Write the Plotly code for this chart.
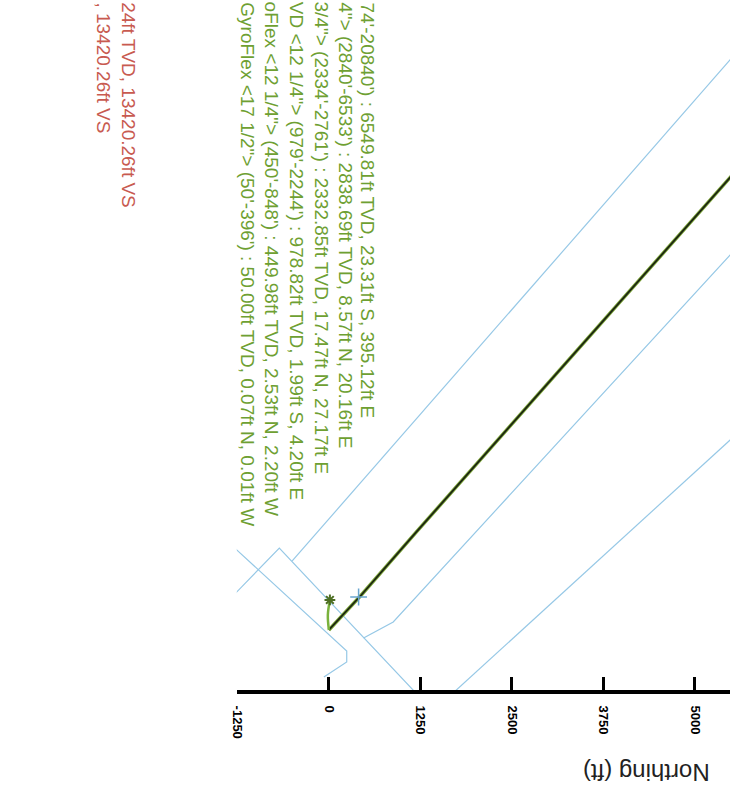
import plotly.graph_objects as go

# ---------------- data (feet) ----------------
northing_ticks = [-1250, 0, 1250, 2500, 3750, 5000]
tick_labels = ["-1250", "0", "1250", "2500", "3750", "5000"]

# planned wellbore (x = Northing, y = cross axis of the rotated plan view)
traj_x = [0, 440, 1190, 2909, 4627, 5479, 6000]
traj_y = [0, 470, 1320, 3250, 5173, 6120, 6700]

# top-hole (gyro) section
gyro_x = [0, -14, 14]
gyro_y = [0, 203, 406]

# survey marker on the plan
marker_x = [406]
marker_y = [446]

# lease / section lines
lease_b_x = [-1421, -1258, 244, 244, -68]
lease_b_y = [1231, 1082, -284, -433, -636]
lease_c_x = [-1421, -677, 1285]
lease_c_y = [348, 1109, -954]
lease_d_x = [-501, 5885]
lease_d_y = [934, 8172]
lease_e_x = [474, 879, 5885]
lease_e_y = [-108, 108, 5511]
lease_f_x = [1637, 5885]
lease_f_y = [-906, 2936]

# casing / section labels (visible parts)
green_labels = [
    "74'-20840') : 6549.81ft TVD, 23.31ft S, 395.12ft E",
    "4\"&gt; (2840'-6533') : 2838.69ft TVD, 8.57ft N, 20.16ft E",
    "3/4\"&gt; (2334'-2761') : 2332.85ft TVD, 17.47ft N, 27.17ft E",
    "VD &lt;12 1/4\"&gt; (979'-2244') : 978.82ft TVD, 1.99ft S, 4.20ft E",
    "oFlex &lt;12 1/4\"&gt; (450'-848') : 449.98ft TVD, 2.53ft N, 2.20ft W",
    "GyroFlex &lt;17 1/2\"&gt; (50'-396') : 50.00ft TVD, 0.07ft N, 0.01ft W",
]
red_labels = [
    "24ft TVD, 13420.26ft VS",
    ", 13420.26ft VS",
]

# ---------------- layout helpers ----------------
W, H = 730, 799
FONT = "Liberation Sans, Arial, sans-serif"
BLUE = "#96c8e6"
GREEN = "#6ea032"
RED = "#c85a50"


def px(xp):
    return xp / W


def py(yp):
    return 1 - yp / H


fig = go.Figure()

for lx, ly in [(lease_b_x, lease_b_y), (lease_c_x, lease_c_y), (lease_d_x, lease_d_y),
               (lease_e_x, lease_e_y), (lease_f_x, lease_f_y)]:
    fig.add_trace(go.Scatter(x=lx, y=ly, mode="lines",
                             line=dict(color=BLUE, width=1.2), hoverinfo="skip"))

fig.add_trace(go.Scatter(x=traj_x, y=traj_y, mode="lines",
                         line=dict(color="#7fa83a", width=3.5), hoverinfo="skip"))
fig.add_trace(go.Scatter(x=traj_x, y=traj_y, mode="lines",
                         line=dict(color="#1c2612", width=1.8), hoverinfo="skip"))
fig.add_trace(go.Scatter(x=gyro_x, y=gyro_y, mode="lines",
                         line=dict(color="#7ab23c", width=2.5, shape="spline"), hoverinfo="skip"))
fig.add_trace(go.Scatter(x=[gyro_x[-1]], y=[gyro_y[-1]], mode="markers",
                         marker=dict(symbol="asterisk-open", size=9, color="#4d6e22",
                                     line=dict(color="#4d6e22", width=2)), hoverinfo="skip"))
fig.add_trace(go.Scatter(x=marker_x, y=marker_y, mode="markers",
                         marker=dict(symbol="cross-thin-open", size=12, color="#6aa6cf",
                                     line=dict(color="#6aa6cf", width=1.5)), hoverinfo="skip"))

annotations = []
green_cols = [364, 342, 318, 293, 268, 243]
for t, cx in zip(green_labels, green_cols):
    annotations.append(dict(text=t, x=px(cx), y=py(1), xref="paper", yref="paper",
                            xanchor="center", yanchor="top", textangle=90, showarrow=False,
                            borderpad=0,
                            font=dict(family=FONT, size=19, color=GREEN)))
red_cols = [123, 97]
for t, cx in zip(red_labels, red_cols):
    annotations.append(dict(text=t, x=px(cx), y=py(1), xref="paper", yref="paper",
                            xanchor="center", yanchor="top", textangle=90, showarrow=False,
                            borderpad=0,
                            font=dict(family=FONT, size=19, color=RED)))
annotations.append(dict(text="Northing (ft)", x=px(645), y=py(773), xref="paper", yref="paper",
                        xanchor="center", yanchor="middle", textangle=180, showarrow=False,
                        font=dict(family=FONT, size=24, color="#222222")))

fig.update_layout(
    width=W, height=H,
    margin=dict(l=0, r=0, t=0, b=0),
    paper_bgcolor="white", plot_bgcolor="white",
    showlegend=False,
    xaxis=dict(domain=[232 / W, 1], range=[-1258, 5479], showgrid=False, zeroline=False,
               showline=True, linecolor="black", linewidth=4,
               ticks="inside", ticklen=13, tickwidth=3, tickcolor="black",
               tickvals=northing_ticks, ticktext=tick_labels, tickangle=90,
               ticklabelstandoff=9,
               tickfont=dict(family=FONT, size=13, color="black", weight="bold")),
    yaxis=dict(domain=[1 - 690 / H, 1], range=[-812, 8523], visible=False),
    annotations=annotations,
)

fig.write_html("out.html", config={"displayModeBar": False},
               post_script="document.body.style.margin='0';document.body.style.overflow='hidden';")
